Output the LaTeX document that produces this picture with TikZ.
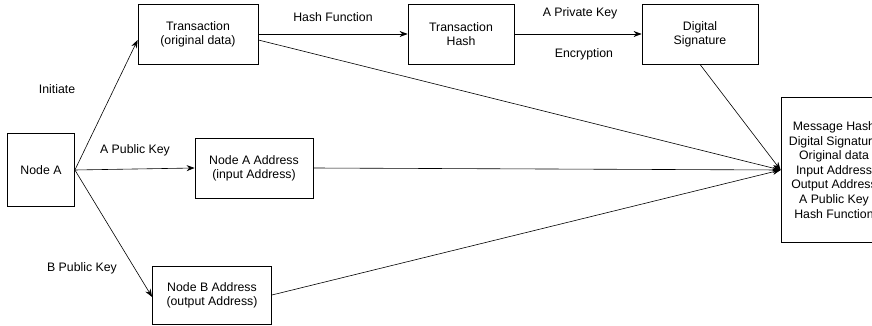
\documentclass[tikz,border=0pt]{standalone}
\usepackage{fontspec}
\setmainfont{Liberation Sans}
\usetikzlibrary{arrows.meta}
\tikzset{
    box/.style={draw, thick, fill=white, align=center, inner sep=0pt, font=\fontsize{12.3}{14}\selectfont},
    lbl/.style={font=\fontsize{12.3}{14}\selectfont},
    arr/.style={-{Stealth[length=8pt,width=6pt]}, semithick}
}
\begin{document}
\begin{tikzpicture}[x=1pt, y=-1pt]{
    \useasboundingbox (0,0) rectangle (872,326);
    \begin{scope}
    \clip (0,0) rectangle (872,326);

    \node [box, minimum width=67, minimum height=73] (A) at (41,170) {Node A};
    \node [box, minimum width=120, minimum height=60] (T) at (198,34) {Transaction\\(original data)};
    \node [box, minimum width=106, minimum height=60] (H) at (461,34) {Transaction\\Hash};
    \node [box, minimum width=116, minimum height=60] (S) at (700,34) {Digital\\Signature};
    \node [box, minimum width=118, minimum height=60] (AA) at (254,168) {Node A Address\\(input Address)};
    \node [box, minimum width=119, minimum height=58] (BA) at (212,295) {Node B Address\\(output Address)};
    \node [box, minimum width=106, minimum height=145, font=\fontsize{12.3}{14.6}\selectfont] (M) at (834,170)
        {Message Hash\\Digital Signature\\Original data\\Input Address\\Output Address\\A Public Key\\Hash Function};

    \path [arr] (A.east) edge (T.west |- 0,40);
    \path [arr] (A.east) edge (AA.west);
    \path [arr] (A.east) edge (BA.west |- 0,297);
    \path [arr] (T.east) edge (H.west);
    \path [arr] (H.east) edge (S.west);
    \path [arr] (T.east |- 0,40) edge (M.west);
    \path [arr] (S.south) edge (M.west);
    \path [arr] (AA.east) edge (M.west);
    \path [arr] (BA.east |- 0,295) edge (M.west);

    \node [lbl] (ini) at (57,89) {Initiate};
    \node [lbl] (apk) at (135,150) {A Public Key};
    \node [lbl] (bpk) at (82,268) {B Public Key};
    \node [lbl] (hf) at (333,17) {Hash Function};
    \node [lbl] (prk) at (580,13) {A Private Key};
    \node [lbl] (enc) at (584,54) {Encryption};
    \end{scope}
    }
\end{tikzpicture}
\end{document}
